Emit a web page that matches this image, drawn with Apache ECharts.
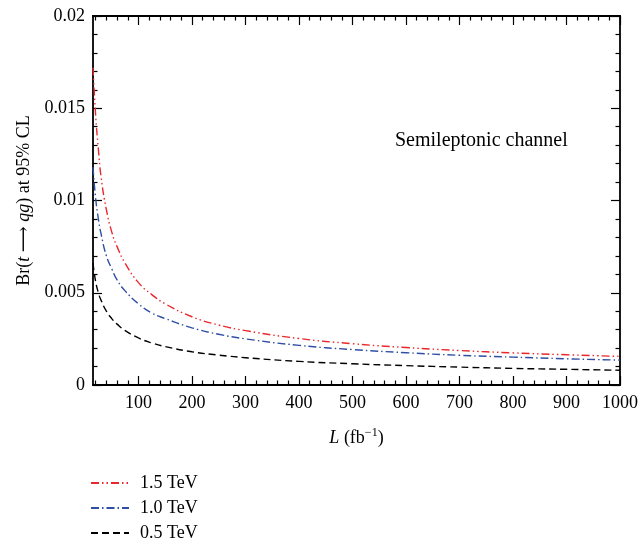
<!DOCTYPE html>
<html><head><meta charset="utf-8">
<script src="https://cdn.jsdelivr.net/npm/echarts@6/dist/echarts.min.js"></script>
<style>html,body{margin:0;padding:0;background:#fff}#c{width:642px;height:548px}</style>
</head><body><div id="c"></div>
<script>
const luminosity = [15,20,25,30,40,50,60,75,100,125,150,200,250,300,400,500,600,700,800,900,1000];
const br15TeV = [0.0172,0.0146,0.0128,0.0113,0.0095,0.0083,0.0075,0.0066,0.00555,0.0049,0.0044,0.0037,0.00325,0.00295,0.00252,0.00224,0.00203,0.00187,0.00174,0.00164,0.00155];
const br10TeV = [0.0118,0.0101,0.0090,0.0082,0.0070,0.0063,0.0057,0.0051,0.0044,0.0039,0.0036,0.0031,0.00275,0.0025,0.00215,0.00192,0.00175,0.00161,0.00151,0.00142,0.00135];
const br05TeV = [0.0066,0.0056,0.0050,0.0046,0.0040,0.0036,0.0033,0.00295,0.00255,0.00228,0.00208,0.0018,0.00162,0.00148,0.00128,0.00115,0.00105,0.00097,0.0009,0.00085,0.0008];
const seriesNames = ['1.5 TeV','1.0 TeV','0.5 TeV'];
const xMajorTicks = [100,200,300,400,500,600,700,800,900,1000];
const xMinorTicks = [20,40,60,80,120,140,160,180,220,240,260,280,320,340,360,380,420,440,460,480,520,540,560,580,620,640,660,680,720,740,760,780,820,840,860,880,920,940,960,980];

const FONT = '"Liberation Serif", "DejaVu Serif", serif';
const pair = (xs, ys) => xs.map((x, i) => [x, ys[i]]);

function xAx(pos, major, withLabel) {
  return {
    type: 'value', position: pos, min: 15, max: 1000,
    axisLine: { show: true, onZero: false, lineStyle: { color: '#000', width: 1.8 } },
    axisTick: { show: true, inside: true, length: major ? 9 : 4.5, lineStyle: { color: '#000', width: 1.2 },
      customValues: major ? xMajorTicks : xMinorTicks },
    axisLabel: withLabel ? { show: true, customValues: xMajorTicks, formatter: v => String(v), color: '#000', fontFamily: FONT, fontSize: 18, margin: 9 } : { show: false },
    splitLine: { show: false }
  };
}
function yAx(pos, withLabel) {
  return {
    type: 'value', position: pos, min: 0, max: 0.02, interval: 0.005,
    axisLine: { show: true, onZero: false, lineStyle: { color: '#000', width: 1.8 } },
    axisTick: { show: true, inside: true, length: 9, lineStyle: { color: '#000', width: 1.2 } },
    minorTick: { show: true, splitNumber: 5, length: 4.5, lineStyle: { color: '#000', width: 1.2 } },
    axisLabel: withLabel ? { show: true, color: '#000', fontFamily: FONT, fontSize: 18, margin: 8 } : { show: false },
    splitLine: { show: false }, minorSplitLine: { show: false }
  };
}

const chart = echarts.init(document.getElementById('c'), null, { renderer: 'canvas' });
const xBottom = xAx('bottom', false, true);
xBottom.name = '{i|L} (fb{sup|\u22121})';
xBottom.nameLocation = 'middle';
xBottom.nameGap = 42;
xBottom.nameTextStyle = { color: '#000', fontFamily: FONT, fontSize: 18,
  rich: { i: { fontStyle: 'italic', fontFamily: FONT, fontSize: 18 }, sup: { fontFamily: FONT, fontSize: 12, verticalAlign: 'top', padding: [0,0,10,0] } } };
const yLeft = yAx('left', true);
yLeft.name = 'Br({i|t} \u27F6 {i|qg}) at 95% CL';
yLeft.nameLocation = 'middle';
yLeft.nameGap = 60;
yLeft.nameTextStyle = { color: '#000', fontFamily: FONT, fontSize: 18,
  rich: { i: { fontStyle: 'italic', fontFamily: FONT, fontSize: 18 } } };

chart.setOption({
  animation: false,
  backgroundColor: '#fff',
  grid: { left: 93, right: 22, top: 16, bottom: 163, containLabel: false },
  title: { text: 'Semileptonic channel', left: 390, top: 126,
    textStyle: { color: '#000', fontFamily: FONT, fontWeight: 'normal', fontSize: 20 } },
  legend: {
    orient: 'vertical', left: 90, top: 474, height: 74, padding: 0, itemWidth: 38, itemHeight: 14, itemGap: 7,
    itemStyle: { opacity: 0 },
    textStyle: { color: '#000', fontFamily: FONT, fontSize: 18, padding: [0,0,0,6] },
    data: seriesNames
  },
  xAxis: [xBottom, xAx('bottom', true, false), xAx('top', false, false), xAx('top', true, false)],
  yAxis: [yLeft, yAx('right', false)],
  series: [
    { name: seriesNames[0], type: 'line', smooth: true, symbol: 'none', xAxisIndex: 0, yAxisIndex: 0,
      data: pair(luminosity, br15TeV), lineStyle: { color: '#e8282c', width: 1.4, type: [8,3,1.5,3,1.5,3] }, itemStyle: { color: '#e8282c' } },
    { name: seriesNames[1], type: 'line', smooth: true, symbol: 'none', xAxisIndex: 0, yAxisIndex: 0,
      data: pair(luminosity, br10TeV), lineStyle: { color: '#2f4fa5', width: 1.4, type: [8,3,1.5,3] }, itemStyle: { color: '#2f4fa5' } },
    { name: seriesNames[2], type: 'line', smooth: true, symbol: 'none', xAxisIndex: 0, yAxisIndex: 0,
      data: pair(luminosity, br05TeV), lineStyle: { color: '#000', width: 1.4, type: [7,4] }, itemStyle: { color: '#000' } }
  ]
});
</script></body></html>
